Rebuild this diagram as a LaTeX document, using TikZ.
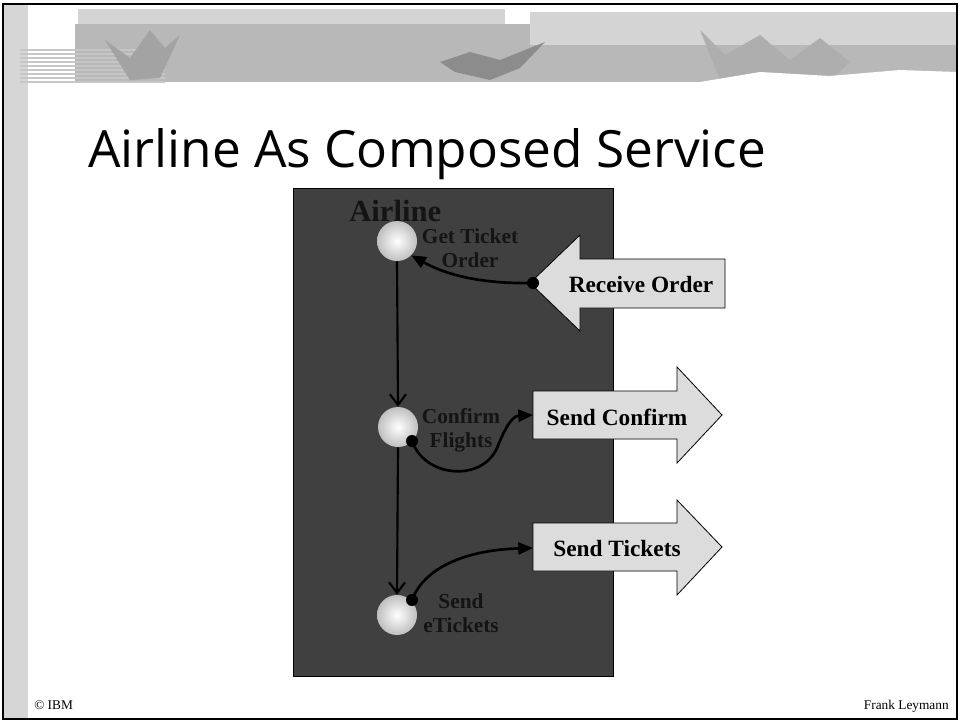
\documentclass[tikz,border=0pt]{standalone}
\usepackage{fontspec}
\setmainfont{Liberation Serif}
\newfontfamily\titlefont{Open Sans}
\usetikzlibrary{arrows.meta}
\definecolor{panel}{RGB}{64,64,64}
\definecolor{lbl}{RGB}{20,20,20}
\definecolor{arrowfill}{RGB}{220,220,220}
\definecolor{strip}{RGB}{214,214,214}
\definecolor{band}{RGB}{184,184,184}
\definecolor{bandlight}{RGB}{212,212,212}
\definecolor{banddark}{RGB}{140,140,140}
\begin{document}
\begin{tikzpicture}[x=0.75pt,y=-0.75pt,
  ballnode/.style={circle,minimum size=30pt,inner sep=0pt,inner color=white,outer color=gray!50},
  lblnode/.style={font=\bfseries\fontsize{16}{18}\selectfont,text=lbl,align=center,inner sep=0pt},
  arrtext/.style={font=\bfseries\fontsize{17.5}{20}\selectfont,inner sep=0pt},
  bigarrow/.style={fill=arrowfill,draw=black,line width=0.6pt},
  conn/.style={line width=2pt,-{Triangle[length=11pt,width=9pt]}},
  flow/.style={line width=1.6pt,-{Straight Barb[length=8pt,width=12pt,line width=1.6pt]}},
  dotnode/.style={circle,fill=black,minimum size=9pt,inner sep=0pt}]
\useasboundingbox (0,0) rectangle (960,722);
\fill[white] (0,0) rectangle (960,722);
% left textured strip
\fill[strip] (3,3) rectangle (28,719);
% banner
\fill[bandlight] (78,9) rectangle (505,24);
\fill[band] (75,24) rectangle (957,82);
\fill[bandlight] (530,12) rectangle (957,45);
\foreach \yy in {50,54,...,82} {\draw[gray!45,line width=1pt] (20,\yy) -- (165,\yy);}
\fill[banddark] (440,62) -- (470,52) -- (500,60) -- (545,42) -- (520,68) -- (490,80) -- (455,72) -- cycle;
\fill[banddark!80] (105,40) -- (130,58) -- (150,30) -- (165,48) -- (180,35) -- (160,78) -- (130,80) -- cycle;
\fill[banddark!70] (700,30) -- (725,55) -- (760,35) -- (790,60) -- (820,38) -- (850,62) -- (830,80) -- (720,80) -- cycle;
\fill[white] (700,82) -- (760,72) -- (830,76) -- (900,70) -- (957,72) -- (957,82) -- cycle;
% frame
\draw[line width=1.5pt] (3,4) rectangle (957,719);
% title
\node[anchor=base west,font=\titlefont\fontsize{38.5}{44}\selectfont,inner sep=0pt] (title) at (88,167) {Airline As Composed Service};
% panel
\node[draw=black,fill=panel,line width=0.8pt,minimum width=240pt,minimum height=366pt,inner sep=0pt,anchor=north west] (panel) at (293,188) {};
\node[anchor=base west,font=\bfseries\fontsize{23}{25}\selectfont,text=lbl,inner sep=0pt] (airline) at (349,221) {Airline};
% balls
\node[ballnode] (c1) at (397,241) {};
\node[ballnode] (c2) at (398,427) {};
\node[ballnode] (c3) at (397,615) {};
% labels
\node[lblnode] (l1) at (470,248) {Get Ticket\\Order};
\node[lblnode] (l2) at (461,430) {Confirm\\Flights};
\node[lblnode] (l3) at (461,613) {Send\\eTickets};
% big arrows
\draw[bigarrow] (725,259) -- (580,259) -- (580,235) -- (530,283) -- (580,331) -- (580,308) -- (725,308) -- cycle;
\draw[bigarrow] (533,391) -- (677,391) -- (677,367) -- (722,415) -- (677,463) -- (677,439) -- (533,439) -- cycle;
\draw[bigarrow] (533,523) -- (677,523) -- (677,500) -- (722,547) -- (677,595) -- (677,571) -- (533,571) -- cycle;
\node[arrtext] (recv) at (641,285) {Receive Order};
\node[arrtext] (sconf) at (617,417) {Send Confirm};
\node[arrtext] (stick) at (617,549) {Send Tickets};
\coordinate (a2) at (533,415);
\coordinate (a3) at (533,548);
% dots
\coordinate (d1) at (533,283);
\coordinate (d2) at (412,441);
\coordinate (d3) at (412,600);
% connectors
\draw[flow] (c1.south) -- (c2.north);
\draw[flow] (c2.south) -- (c3.north);
\draw[conn] (d1) .. controls (485,284) and (448,276) .. (c1.-45);
\draw[line width=2pt] (d2) .. controls (425,478) and (482,482) .. (497,448);
\draw[conn] (497,448) .. controls (505,428) and (512,416) .. (a2);
\draw[conn] (d3) .. controls (424,568) and (465,550) .. (a3);
\node[dotnode] (dd1) at (d1) {};
\node[dotnode] (dd2) at (d2) {};
\node[dotnode] (dd3) at (d3) {};
% footer
\node[anchor=base west,font=\fontsize{10}{12}\selectfont,inner sep=0pt] (ibm) at (34,709) {© IBM};
\node[anchor=base east,font=\fontsize{10}{12}\selectfont,inner sep=0pt] (author) at (949,709) {Frank Leymann};
\end{tikzpicture}
\end{document}
